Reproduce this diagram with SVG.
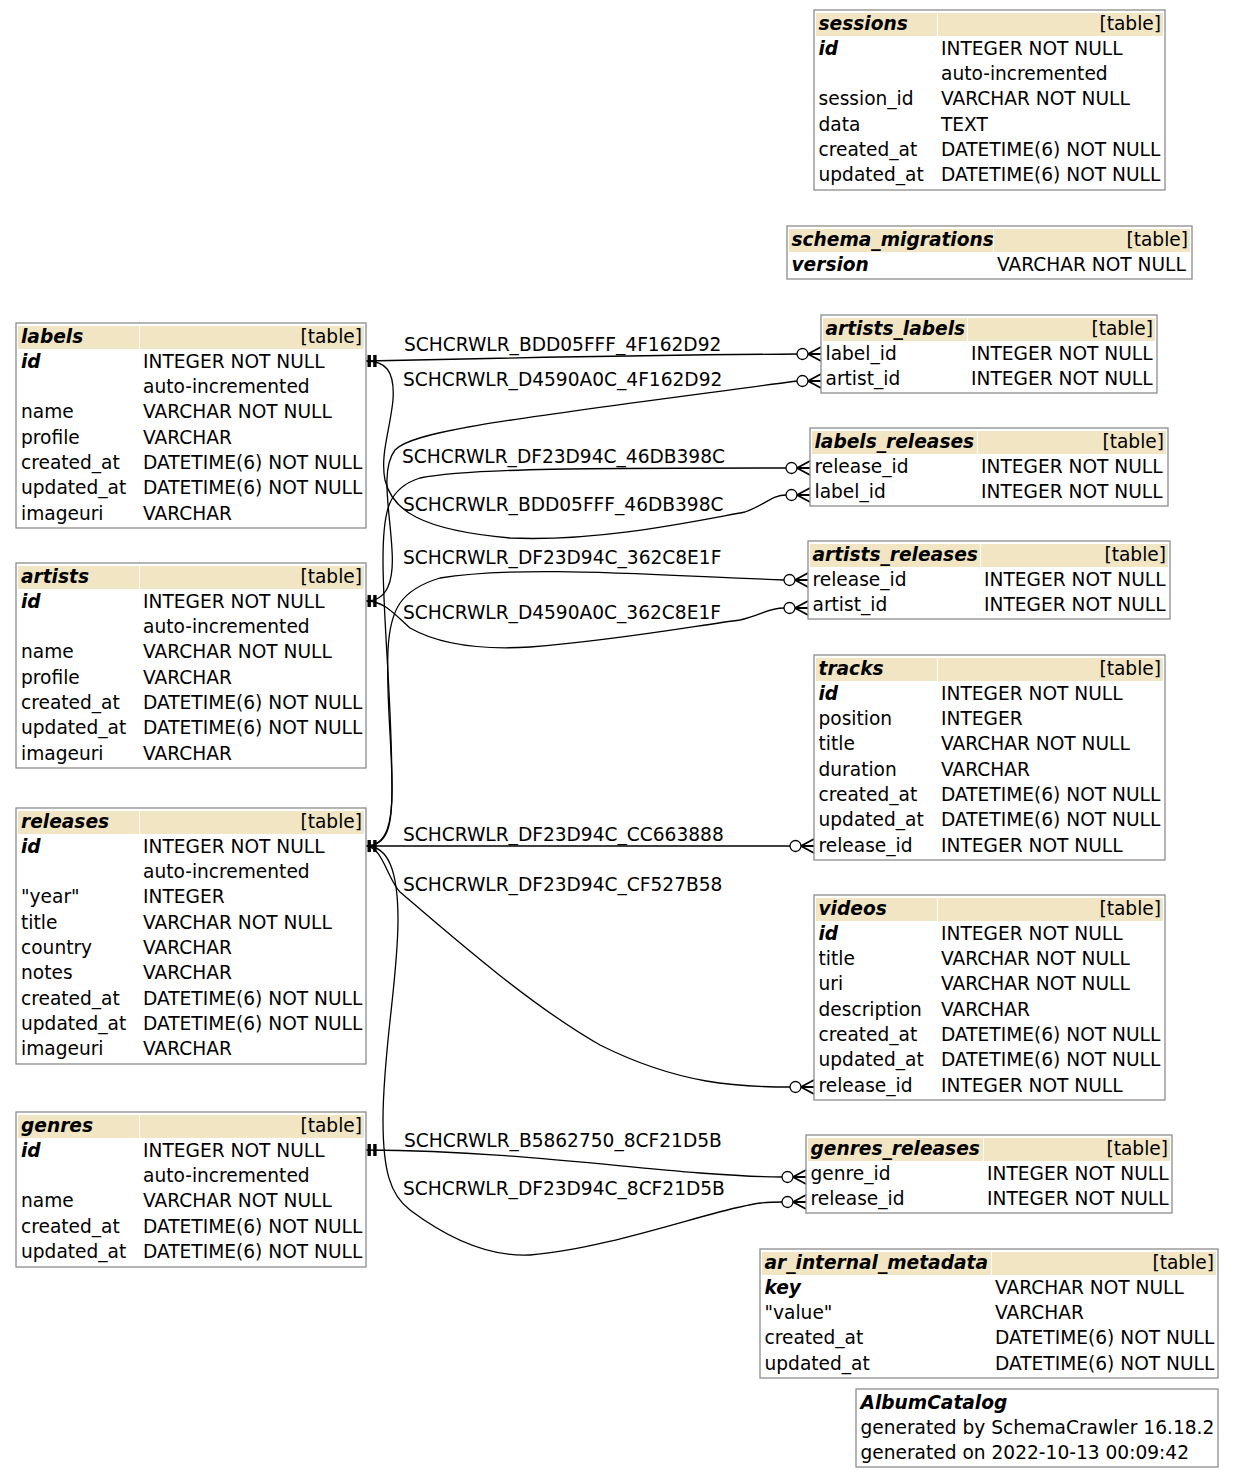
<svg xmlns="http://www.w3.org/2000/svg" width="1235" height="1479" viewBox="0 0 1235 1479">
<style>
  text { font-family: "DejaVu Sans", Verdana, sans-serif; font-size: 18.6px; fill: #000; }
  .b { font-weight: bold; font-style: italic; }
  .r { text-anchor: end; }
  .tb { fill: #fff; stroke: #8c8c8c; stroke-width: 1.3; }
  .hd { fill: #f1e5c4; }
  .e { fill: none; stroke: #000; stroke-width: 1.3; }
</style>
<defs>
  <!-- exactly-one end at the referenced key -->
  <g id="pk-end">
    <rect x="1.5" y="-6" width="3.4" height="12" fill="#000"/>
    <rect x="7.2" y="-6" width="3.4" height="12" fill="#000"/>
  </g>
  <!-- zero-or-many end at the foreign key -->
  <g id="fk-end">
    <path d="M0,-7 L-13,0 L0,7 M-13,0 H0" fill="none" stroke="#000" stroke-width="1.8"/>
    <circle cx="-18.5" cy="0" r="5.5" fill="#fff" stroke="#000" stroke-width="1.3"/>
  </g>
</defs>
<rect width="1235" height="1479" fill="#fff"/>

<!-- relationships -->
<g id="connectors">
  <path class="e" d="M366,361 C500,358 650,355 797,354"/>
  <path class="e" d="M366,601 C388,601 394,580 392,550 C390,510 380,470 395,450 C412,430 520,418 797,381"/>
  <path class="e" d="M366,361 C385,361 395,370 393,400 C390,430 380,455 385,480 C392,510 420,530 510,538 C600,542 700,520 745,512 C765,505 772,495 786,495"/>
  <path class="e" d="M366,846 C388,846 392,825 392,790 C392,700 383,620 383,560 C383,510 388,488 420,478 C470,468 600,468 786,468"/>
  <path class="e" d="M366,846 C388,846 392,820 392,790 C392,740 386,700 388,650 C390,610 400,590 440,578 C520,565 650,575 784,580"/>
  <path class="e" d="M366,601 C385,601 395,615 410,628 C440,645 480,650 530,647 C620,640 700,625 740,620 C762,615 768,608 784,608"/>
  <path class="e" d="M366,846 L790,846"/>
  <path class="e" d="M366,846 C382,846 388,880 400,892 C450,935 530,1005 600,1045 C680,1085 740,1087 790,1087"/>
  <path class="e" d="M366,846 C388,846 398,870 398,920 C398,980 383,1050 383,1120 C383,1170 390,1195 410,1210 C450,1240 490,1257 530,1255 C600,1250 700,1215 740,1207 C757,1203 765,1202 782,1202"/>
  <path class="e" d="M366,1150 C500,1151 600,1165 700,1173 C740,1176 760,1177 782,1177"/>

  <use href="#pk-end" x="366" y="361"/>
  <use href="#pk-end" x="366" y="601"/>
  <use href="#pk-end" x="366" y="846"/>
  <use href="#pk-end" x="366" y="1150"/>

  <use href="#fk-end" x="821" y="354"/>
  <use href="#fk-end" x="821" y="381"/>
  <use href="#fk-end" x="810" y="468"/>
  <use href="#fk-end" x="810" y="495"/>
  <use href="#fk-end" x="808" y="580"/>
  <use href="#fk-end" x="808" y="608"/>
  <use href="#fk-end" x="814" y="846"/>
  <use href="#fk-end" x="814" y="1087"/>
  <use href="#fk-end" x="806" y="1177"/>
  <use href="#fk-end" x="806" y="1202"/>

  <text x="404" y="351">SCHCRWLR_BDD05FFF_4F162D92</text>
  <text x="403" y="386">SCHCRWLR_D4590A0C_4F162D92</text>
  <text x="402" y="463">SCHCRWLR_DF23D94C_46DB398C</text>
  <text x="403" y="511">SCHCRWLR_BDD05FFF_46DB398C</text>
  <text x="403" y="564">SCHCRWLR_DF23D94C_362C8E1F</text>
  <text x="403" y="619">SCHCRWLR_D4590A0C_362C8E1F</text>
  <text x="403" y="841">SCHCRWLR_DF23D94C_CC663888</text>
  <text x="403" y="891">SCHCRWLR_DF23D94C_CF527B58</text>
  <text x="404" y="1147">SCHCRWLR_B5862750_8CF21D5B</text>
  <text x="403" y="1195">SCHCRWLR_DF23D94C_8CF21D5B</text>
</g>

<!-- sessions -->
<g id="sessions" transform="translate(814,10)">
  <rect class="tb" width="351" height="180"/>
  <rect class="hd" x="2" y="3" width="121" height="23"/><rect class="hd" x="124" y="3" width="225" height="23"/>
  <text class="b" x="4.5" y="19.5">sessions</text><text class="r" x="347" y="19.5">[table]</text>
  <text class="b" x="4.5" y="44.5">id</text><text x="127" y="44.5">INTEGER NOT NULL</text>
  <text x="127" y="69.8">auto-incremented</text>
  <text x="4.5" y="95.2">session_id</text><text x="127" y="95.2">VARCHAR NOT NULL</text>
  <text x="4.5" y="120.5">data</text><text x="127" y="120.5">TEXT</text>
  <text x="4.5" y="145.8">created_at</text><text x="127" y="145.8">DATETIME(6) NOT NULL</text>
  <text x="4.5" y="171.2">updated_at</text><text x="127" y="171.2">DATETIME(6) NOT NULL</text>
</g>

<!-- schema_migrations -->
<g id="schema_migrations" transform="translate(787,226)">
  <rect class="tb" width="405" height="53"/>
  <rect class="hd" x="2" y="3" width="204" height="23"/><rect class="hd" x="207" y="3" width="196" height="23"/>
  <text class="b" x="4.5" y="19.5">schema_migrations</text><text class="r" x="401" y="19.5">[table]</text>
  <text class="b" x="4.5" y="44.5">version</text><text x="210" y="44.5">VARCHAR NOT NULL</text>
</g>

<!-- artists_labels -->
<g id="artists_labels" transform="translate(821,315)">
  <rect class="tb" width="336" height="78"/>
  <rect class="hd" x="2" y="3" width="144" height="23"/><rect class="hd" x="147" y="3" width="187" height="23"/>
  <text class="b" x="4.5" y="19.5">artists_labels</text><text class="r" x="332" y="19.5">[table]</text>
  <text x="4.5" y="44.5">label_id</text><text x="150" y="44.5">INTEGER NOT NULL</text>
  <text x="4.5" y="69.8">artist_id</text><text x="150" y="69.8">INTEGER NOT NULL</text>
</g>

<!-- labels_releases -->
<g id="labels_releases" transform="translate(810,428)">
  <rect class="tb" width="358" height="78"/>
  <rect class="hd" x="2" y="3" width="165" height="23"/><rect class="hd" x="168" y="3" width="188" height="23"/>
  <text class="b" x="4.5" y="19.5">labels_releases</text><text class="r" x="354" y="19.5">[table]</text>
  <text x="4.5" y="44.5">release_id</text><text x="171" y="44.5">INTEGER NOT NULL</text>
  <text x="4.5" y="69.8">label_id</text><text x="171" y="69.8">INTEGER NOT NULL</text>
</g>

<!-- artists_releases -->
<g id="artists_releases" transform="translate(808,541)">
  <rect class="tb" width="362" height="78"/>
  <rect class="hd" x="2" y="3" width="170" height="23"/><rect class="hd" x="173" y="3" width="187" height="23"/>
  <text class="b" x="4.5" y="19.5">artists_releases</text><text class="r" x="358" y="19.5">[table]</text>
  <text x="4.5" y="44.5">release_id</text><text x="176" y="44.5">INTEGER NOT NULL</text>
  <text x="4.5" y="69.8">artist_id</text><text x="176" y="69.8">INTEGER NOT NULL</text>
</g>

<!-- tracks -->
<g id="tracks" transform="translate(814,655)">
  <rect class="tb" width="351" height="205"/>
  <rect class="hd" x="2" y="3" width="121" height="23"/><rect class="hd" x="124" y="3" width="225" height="23"/>
  <text class="b" x="4.5" y="19.5">tracks</text><text class="r" x="347" y="19.5">[table]</text>
  <text class="b" x="4.5" y="44.5">id</text><text x="127" y="44.5">INTEGER NOT NULL</text>
  <text x="4.5" y="69.8">position</text><text x="127" y="69.8">INTEGER</text>
  <text x="4.5" y="95.2">title</text><text x="127" y="95.2">VARCHAR NOT NULL</text>
  <text x="4.5" y="120.5">duration</text><text x="127" y="120.5">VARCHAR</text>
  <text x="4.5" y="145.8">created_at</text><text x="127" y="145.8">DATETIME(6) NOT NULL</text>
  <text x="4.5" y="171.2">updated_at</text><text x="127" y="171.2">DATETIME(6) NOT NULL</text>
  <text x="4.5" y="196.5">release_id</text><text x="127" y="196.5">INTEGER NOT NULL</text>
</g>

<!-- videos -->
<g id="videos" transform="translate(814,895)">
  <rect class="tb" width="351" height="205"/>
  <rect class="hd" x="2" y="3" width="121" height="23"/><rect class="hd" x="124" y="3" width="225" height="23"/>
  <text class="b" x="4.5" y="19.5">videos</text><text class="r" x="347" y="19.5">[table]</text>
  <text class="b" x="4.5" y="44.5">id</text><text x="127" y="44.5">INTEGER NOT NULL</text>
  <text x="4.5" y="69.8">title</text><text x="127" y="69.8">VARCHAR NOT NULL</text>
  <text x="4.5" y="95.2">uri</text><text x="127" y="95.2">VARCHAR NOT NULL</text>
  <text x="4.5" y="120.5">description</text><text x="127" y="120.5">VARCHAR</text>
  <text x="4.5" y="145.8">created_at</text><text x="127" y="145.8">DATETIME(6) NOT NULL</text>
  <text x="4.5" y="171.2">updated_at</text><text x="127" y="171.2">DATETIME(6) NOT NULL</text>
  <text x="4.5" y="196.5">release_id</text><text x="127" y="196.5">INTEGER NOT NULL</text>
</g>

<!-- genres_releases -->
<g id="genres_releases" transform="translate(806,1135)">
  <rect class="tb" width="366" height="78"/>
  <rect class="hd" x="2" y="3" width="175" height="23"/><rect class="hd" x="178" y="3" width="186" height="23"/>
  <text class="b" x="4.5" y="19.5">genres_releases</text><text class="r" x="362" y="19.5">[table]</text>
  <text x="4.5" y="44.5">genre_id</text><text x="181" y="44.5">INTEGER NOT NULL</text>
  <text x="4.5" y="69.8">release_id</text><text x="181" y="69.8">INTEGER NOT NULL</text>
</g>

<!-- ar_internal_metadata -->
<g id="ar_internal_metadata" transform="translate(760,1249)">
  <rect class="tb" width="458" height="129"/>
  <rect class="hd" x="2" y="3" width="229" height="23"/><rect class="hd" x="232" y="3" width="224" height="23"/>
  <text class="b" x="4.5" y="19.5">ar_internal_metadata</text><text class="r" x="454" y="19.5">[table]</text>
  <text class="b" x="4.5" y="44.5">key</text><text x="235" y="44.5">VARCHAR NOT NULL</text>
  <text x="4.5" y="69.8">"value"</text><text x="235" y="69.8">VARCHAR</text>
  <text x="4.5" y="95.2">created_at</text><text x="235" y="95.2">DATETIME(6) NOT NULL</text>
  <text x="4.5" y="120.5">updated_at</text><text x="235" y="120.5">DATETIME(6) NOT NULL</text>
</g>

<!-- catalog legend -->
<g id="AlbumCatalog" transform="translate(856,1389)">
  <rect class="tb" width="362" height="78"/>
  <text class="b" x="4.5" y="19.5">AlbumCatalog</text>
  <text x="4.5" y="44.5">generated by SchemaCrawler 16.18.2</text>
  <text x="4.5" y="69.8">generated on 2022-10-13 00:09:42</text>
</g>

<!-- labels -->
<g id="labels" transform="translate(16,323)">
  <rect class="tb" width="350" height="205"/>
  <rect class="hd" x="2" y="3" width="121" height="23"/><rect class="hd" x="124" y="3" width="224" height="23"/>
  <text class="b" x="5" y="19.5">labels</text><text class="r" x="346" y="19.5">[table]</text>
  <text class="b" x="5" y="44.5">id</text><text x="127" y="44.5">INTEGER NOT NULL</text>
  <text x="127" y="69.8">auto-incremented</text>
  <text x="5" y="95.2">name</text><text x="127" y="95.2">VARCHAR NOT NULL</text>
  <text x="5" y="120.5">profile</text><text x="127" y="120.5">VARCHAR</text>
  <text x="5" y="145.8">created_at</text><text x="127" y="145.8">DATETIME(6) NOT NULL</text>
  <text x="5" y="171.2">updated_at</text><text x="127" y="171.2">DATETIME(6) NOT NULL</text>
  <text x="5" y="196.5">imageuri</text><text x="127" y="196.5">VARCHAR</text>
</g>

<!-- artists -->
<g id="artists" transform="translate(16,563)">
  <rect class="tb" width="350" height="205"/>
  <rect class="hd" x="2" y="3" width="121" height="23"/><rect class="hd" x="124" y="3" width="224" height="23"/>
  <text class="b" x="5" y="19.5">artists</text><text class="r" x="346" y="19.5">[table]</text>
  <text class="b" x="5" y="44.5">id</text><text x="127" y="44.5">INTEGER NOT NULL</text>
  <text x="127" y="69.8">auto-incremented</text>
  <text x="5" y="95.2">name</text><text x="127" y="95.2">VARCHAR NOT NULL</text>
  <text x="5" y="120.5">profile</text><text x="127" y="120.5">VARCHAR</text>
  <text x="5" y="145.8">created_at</text><text x="127" y="145.8">DATETIME(6) NOT NULL</text>
  <text x="5" y="171.2">updated_at</text><text x="127" y="171.2">DATETIME(6) NOT NULL</text>
  <text x="5" y="196.5">imageuri</text><text x="127" y="196.5">VARCHAR</text>
</g>

<!-- releases -->
<g id="releases" transform="translate(16,808)">
  <rect class="tb" width="350" height="256"/>
  <rect class="hd" x="2" y="3" width="121" height="23"/><rect class="hd" x="124" y="3" width="224" height="23"/>
  <text class="b" x="5" y="19.5">releases</text><text class="r" x="346" y="19.5">[table]</text>
  <text class="b" x="5" y="44.5">id</text><text x="127" y="44.5">INTEGER NOT NULL</text>
  <text x="127" y="69.8">auto-incremented</text>
  <text x="5" y="95.2">"year"</text><text x="127" y="95.2">INTEGER</text>
  <text x="5" y="120.5">title</text><text x="127" y="120.5">VARCHAR NOT NULL</text>
  <text x="5" y="145.8">country</text><text x="127" y="145.8">VARCHAR</text>
  <text x="5" y="171.2">notes</text><text x="127" y="171.2">VARCHAR</text>
  <text x="5" y="196.5">created_at</text><text x="127" y="196.5">DATETIME(6) NOT NULL</text>
  <text x="5" y="221.8">updated_at</text><text x="127" y="221.8">DATETIME(6) NOT NULL</text>
  <text x="5" y="247.2">imageuri</text><text x="127" y="247.2">VARCHAR</text>
</g>

<!-- genres -->
<g id="genres" transform="translate(16,1112)">
  <rect class="tb" width="350" height="155"/>
  <rect class="hd" x="2" y="3" width="121" height="23"/><rect class="hd" x="124" y="3" width="224" height="23"/>
  <text class="b" x="5" y="19.5">genres</text><text class="r" x="346" y="19.5">[table]</text>
  <text class="b" x="5" y="44.5">id</text><text x="127" y="44.5">INTEGER NOT NULL</text>
  <text x="127" y="69.8">auto-incremented</text>
  <text x="5" y="95.2">name</text><text x="127" y="95.2">VARCHAR NOT NULL</text>
  <text x="5" y="120.5">created_at</text><text x="127" y="120.5">DATETIME(6) NOT NULL</text>
  <text x="5" y="145.8">updated_at</text><text x="127" y="145.8">DATETIME(6) NOT NULL</text>
</g>
</svg>
